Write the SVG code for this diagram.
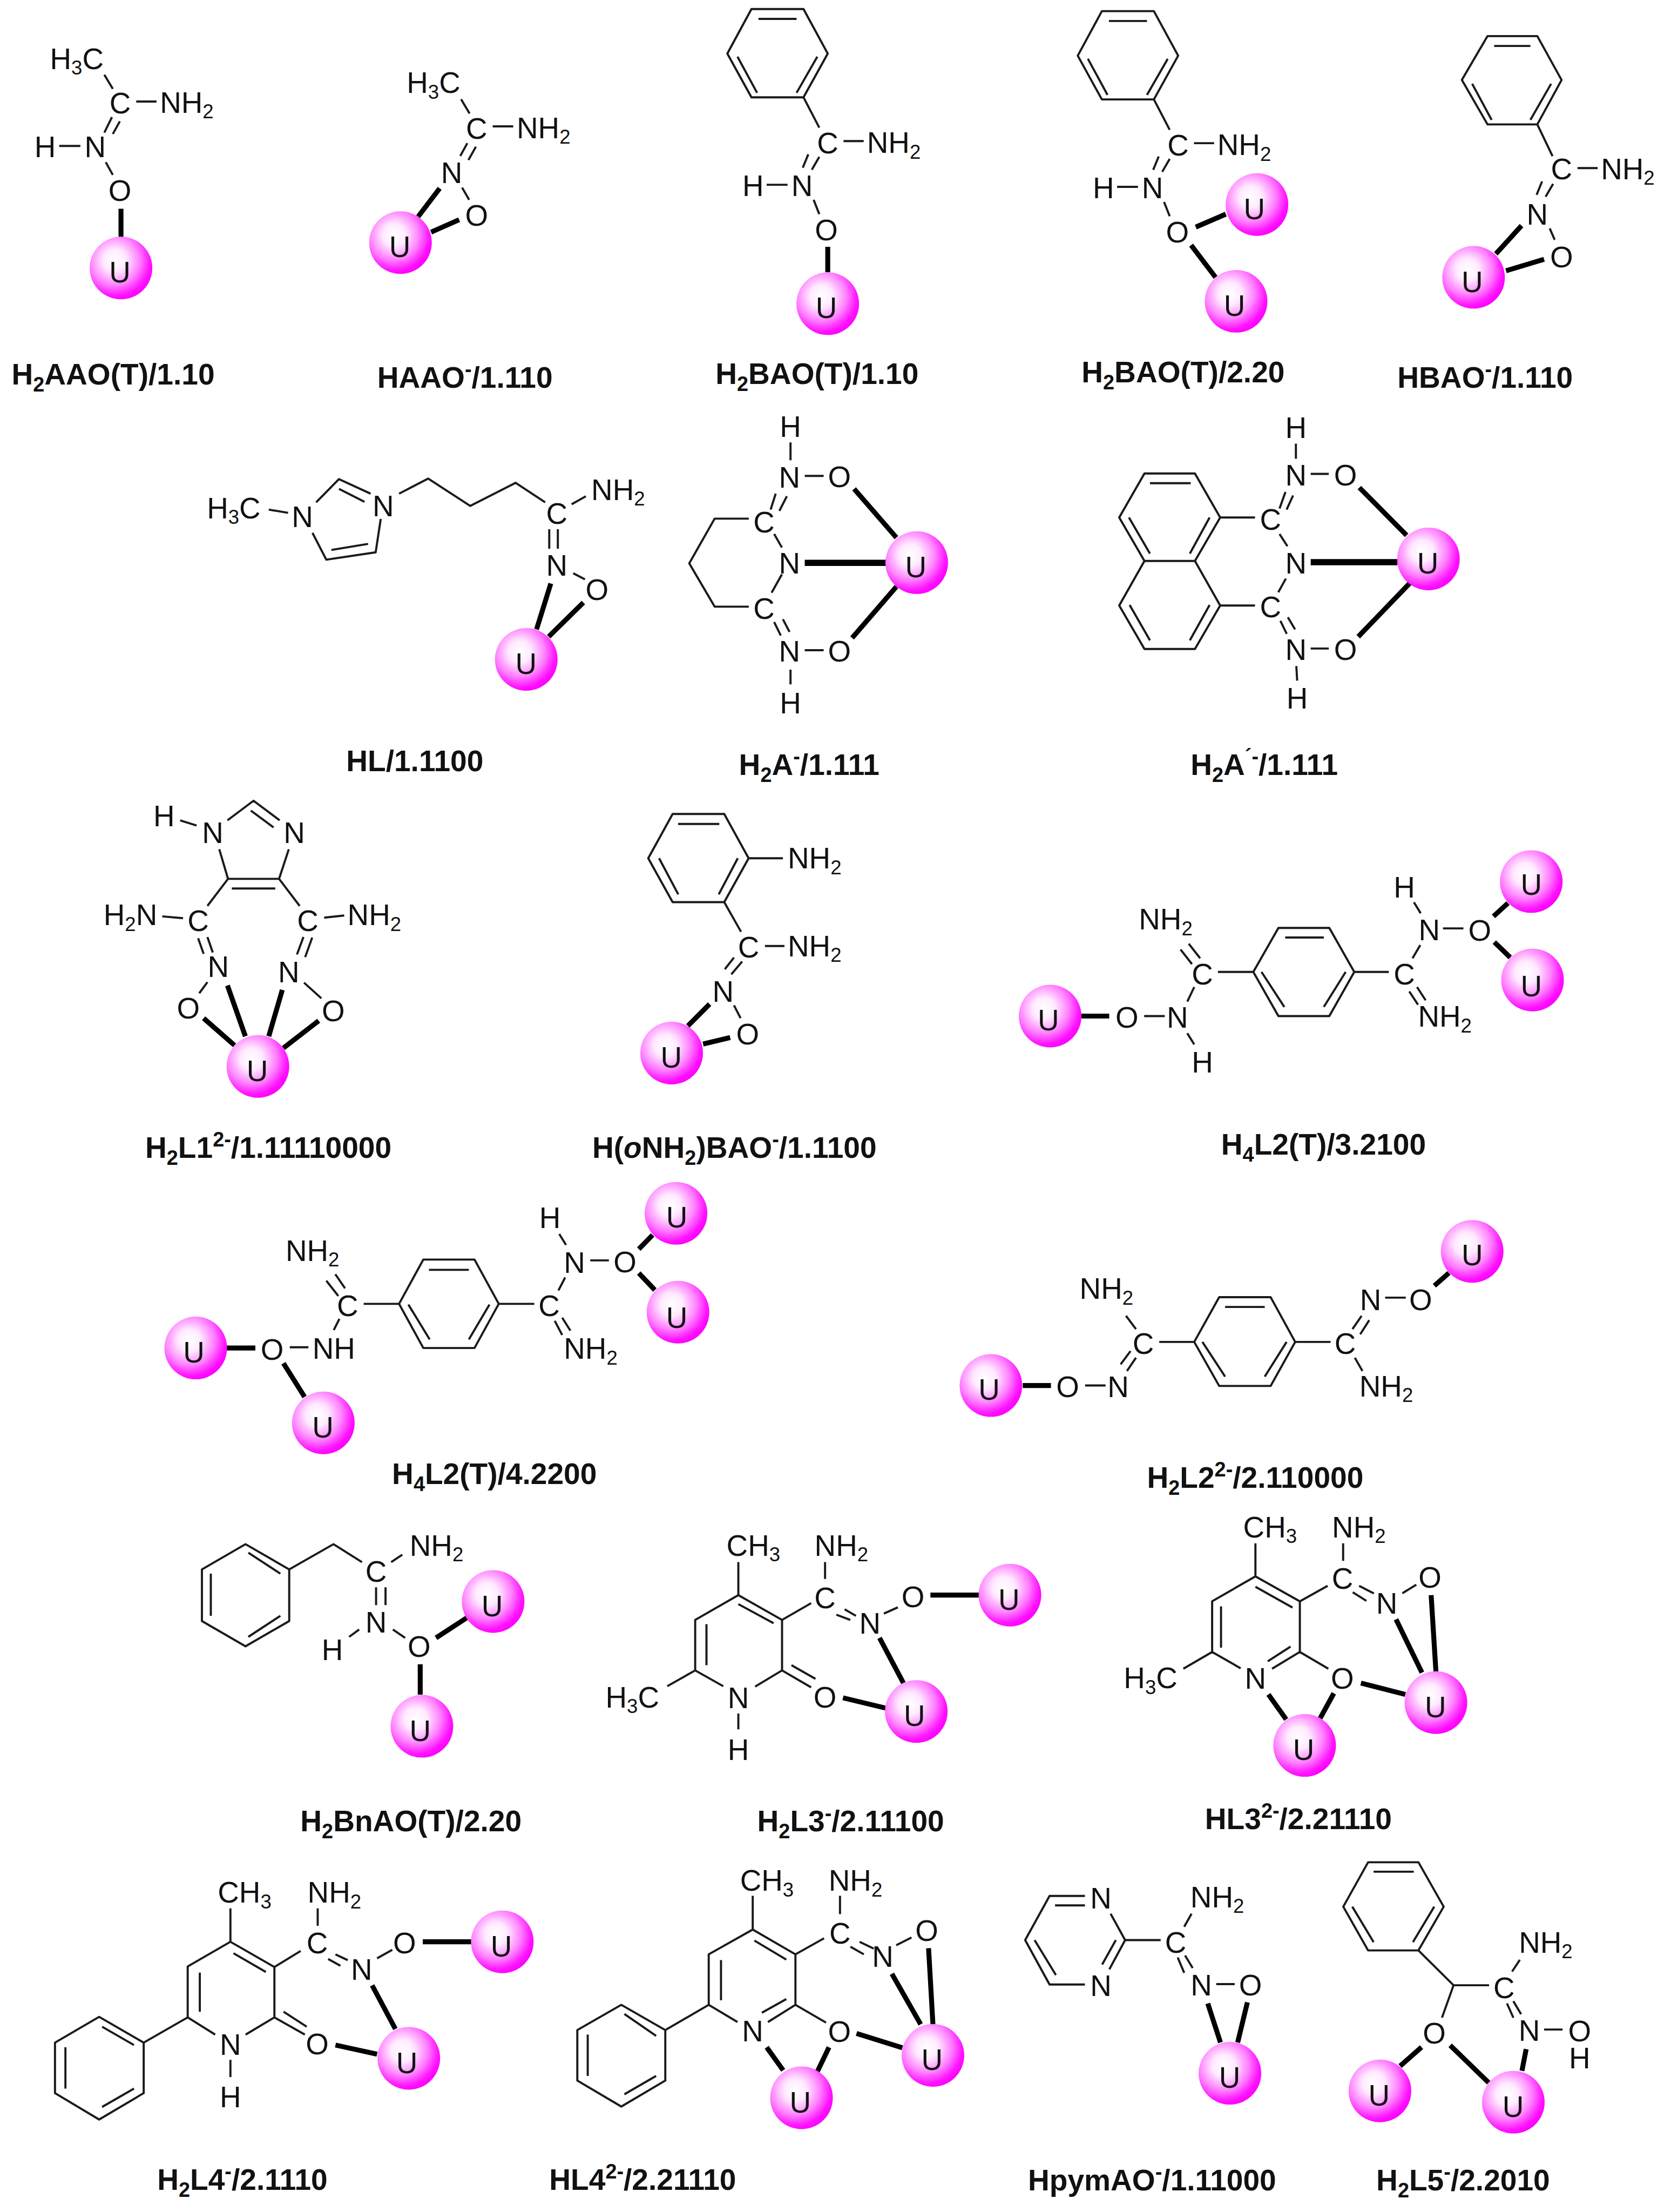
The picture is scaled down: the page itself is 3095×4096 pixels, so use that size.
<svg xmlns="http://www.w3.org/2000/svg" width="3095" height="4096" viewBox="0 0 3095 4096">
<defs>
<radialGradient id="ug" cx="0.4" cy="0.38" r="0.64">
<stop offset="0" stop-color="#ffffff"/><stop offset="0.28" stop-color="#ffeaff"/><stop offset="0.62" stop-color="#ff80ff"/><stop offset="0.88" stop-color="#ff14ff"/><stop offset="1" stop-color="#ff00ff"/>
</radialGradient>
</defs>
<style>
text{font-family:"Liberation Sans",Arial,sans-serif;fill:#111}
.a{font-size:21px;text-anchor:middle;transform:translateY(.4px)}
.l{font-size:21px;transform:translateX(-1.6px)}
.s{font-size:14px}
.c{font-size:21.100px;font-weight:bold}
.cs{font-size:14.500px}
.b{fill:none;stroke:#1a1a1a;stroke-width:1.500;stroke-linejoin:round}
.t{fill:none;stroke:#000;stroke-width:3.500}
.h{fill:none;stroke:#000;stroke-width:4.400}
.u{fill:url(#ug)}
</style>
<rect width="3095" height="4096" fill="#fff"/>
<g transform="scale(2.6118)">
<g id="connectors">
<path class="b" d="M74 53L80 63M96.600 72H111M79.400 83L74 94M85 86L80 95M42 103.500H57M75 115L80 124"/>
<path class="t" d="M85.800 148V168"/>
<path class="b" d="M327 70.400L333 80.500M349.400 89.600H364M331.400 101.500L326.400 110.600M337.500 104L332.200 113.400M327.700 133L332.700 141.700"/>
<path class="t" d="M311.800 133.500L296.500 153.600M325.600 155.800L305.700 164.600"/>
<path class="b" d="M532.900 6.400H569.800L587 38L569.800 69H532.900L515.800 38ZM537.900 13.400H564.900M523 40.200L536.900 65.800M579.600 40.200L564.900 65.800M569.800 69L581 90.500M598.200 100H612.500M573.200 109.400L569.300 118.900M581 111.200L575.700 120.300M543.700 131H558.500M577 141.700L581 151.800"/>
<path class="t" d="M587 175V193"/>
<path class="b" d="M781.400 7.900H818.300L835.500 39.500L818.300 70.500H781.400L764.300 39.500ZM786.400 14.900H813.400M771.500 41.700L785.400 67.300M828.100 41.700L813.400 67.300M818.300 70.500L829.500 92M846.700 101.500H861M821.700 110.900L817.800 120.400M829.500 112.700L824.200 121.800M792.200 132.500H807M825.500 143.200L829.500 153.300"/>
<path class="t" d="M848 161L869.300 151.800M844.700 173.800L862 196.600"/>
<path class="b" d="M1054.900 25.600H1090.200L1107.400 56.700L1090.200 88.200H1054.900L1036.700 56.700ZM1059.600 32.600H1085.300M1044 59.400L1057.800 85M1100 59.400L1085.300 85M1090.200 88.200L1101 110.700M1118.700 119.200H1133M1093.600 128.600L1089.700 138.100M1101.400 130.400L1096.100 139.500M1099 161.900L1102.500 170"/>
<path class="t" d="M1079 160L1060.800 180M1095 183.800L1068 192"/>
<path class="b" d="M190.600 361.300L204.300 363.600M224.200 356.100L240.400 339.700L262.800 350M240.400 346.600L258.500 355.800M270 367.900L266.400 391.600L231.400 396.800L221.600 377.800M261 385.600L235 389.900M283 350L303.600 339.300L333.500 358.700L365.700 342.300L386.600 356.100M405.400 357.500L415.500 351.800M389.500 375.200V389M395.600 375.200V389M406.500 406.400L414.800 410.700"/>
<path class="t" d="M390.600 413.700L380.500 446.200M413.700 427.200L389.100 451.400"/>
<path class="b" d="M560.600 313.700V326.300M570.700 337.400H584.100M550.100 350L546.500 361.300M558 351.800L552.700 362.200M531 367.700H506.800L488.800 399.400L506.800 430.100H531M549 378.600L554.500 388.200M554.500 407.200L547.200 420.200M549 441L553.700 450.600M555.200 439L559.900 448M570.700 461H584.100M560.600 474.800V485.200"/>
<path class="t" d="M605.700 346.600L635.700 381.200M604.300 452.300L635.700 415.900"/>
<path class="h" d="M570.700 399.100H628.500"/>
<path class="b" d="M919 314.500V325.300M929.500 336H942.300M911.600 348.800L907.400 360.500M917 351.300L912.400 361.300M865.300 366.900H890M907.400 378.600L913 387.300M911.900 410.200L906.500 419.900M865.300 429.300H890M908 440.200L912.500 449.400M913.300 437.600L918.400 446.200M929.500 459.800H942.300M919.300 472.200L919.900 482.600M811.600 335.700H847.400L865.300 366.900L847.400 397.700H811.600L793.700 366.900ZM847.400 397.700L865.300 429.300L847.400 460.100H811.600L793.700 429.300L811.600 397.700M815.500 342.600H844.400M800.600 366.900L815.500 392.500M857.800 366.900L843.800 392.500M801.100 428.900L815.500 454M857.800 428.900L843.800 454"/>
<path class="t" d="M964 345.700L997.500 379.500M963.200 451.400L999.900 413.300"/>
<path class="h" d="M929.500 398.600H991"/>
<path class="b" d="M127.800 581.600L139.400 585.300M161.300 581.600L179.800 567.700L198.300 581.600M177.900 574.700L194 586.600M155.500 602.100L161.700 623.100H197.900L204.800 602.100M164.400 629.900H195.200M161.700 623.100L147.100 642.300M197.900 623.100L212.500 642.300M115.100 649.700L129.800 651M229.900 650.600L244.100 649.100M140.500 665.200L144.400 676.200M147.100 664.300L150.900 675.300M215.200 664.300L210.600 676.700M221.400 664.700L216.400 678.600M147.100 696.300L141.300 704.200M215.600 696.700L227.900 707.800"/>
<path class="t" d="M161.300 698.700L174 734.700M200.200 701.800L190.600 734.700M144.400 721.900L166.300 741.100M226 723.700L201 743"/>
<path class="b" d="M477 577.100H513.600L530.900 608.500L513.600 639.600H477L459.700 608.500ZM480.900 584.200H510.100M467.400 608.500L481 634.100M523.200 608.500L509.700 634.100M530.900 608.500H555.200M513.600 639.600L525.500 660.600M542.500 670.700H556.300M520.500 678.900L514 687.200M526.300 681.700L518.600 690.800M520.500 712.800L525.200 721.900"/>
<path class="t" d="M503.200 711.900L487.800 727.400M517.800 735.600L498.600 740.200"/>
<path class="b" d="M811.400 720.400H826M842 732.600L846.900 740.500M842 710.100L846.900 699.800M837.200 673.200L845.300 683.500M843 669.100L851.100 679.400M863.700 689.100H888.800M888.800 689.100L906.600 657.900H942.700L960.400 689.100L942.700 720.400H906.600ZM911.400 664.700H938.800M894.600 689.100L910.800 713.900M954.300 689.100L938.800 713.900M960.400 689.100H984.900M1001.700 679.400L1007.200 670M1007.500 647.500L1002.700 639.700M999.400 702.900L1005.600 712.300M1004.900 699.800L1011 709.200M1023.300 658.200H1037.800"/>
<path class="t" d="M766.900 720.400H786.600M1059.100 649.700L1069.400 640.300M1059.700 667.900L1071 678.800"/>
<path class="b" d="M205.500 955.200H218.700M236.700 943L240.700 935M231.400 908L239.900 918.800M237.800 903.400L244.700 913.400M257.900 924.400H283M283 924.400L300.200 893H336.500L353.700 924.400L336.500 955.700H300.200ZM304.200 900.300H332.500M289.600 924.900L304.700 949.600M347.100 924.900L332.500 949.600M353.700 924.400H378.900M396 914.900L400.800 905.700M401.400 882.600L396.600 874.900M393.400 936.500L398.700 946.500M398.700 934.200L404.500 943.400M418.600 893.600H431.800"/>
<path class="t" d="M160.500 955.700H181.100M201 966.500L216 990.400M453 885.600L462.800 875.600M453 902.600L464.400 914.600"/>
<path class="b" d="M769.500 982.300H784M794.700 967.300L801.700 957.900M799.200 972L805.600 962.600M805.600 942.300L798.500 932.900M822.100 951.400H846.900M846.900 951.400L864.600 919.700H901.100L918.500 951.400L901.100 982.600H864.600ZM868.800 926.600H896.900M852.700 951.400L868.800 976M912.400 951.400L896.900 976M918.500 951.400H943.600M959.100 942.300L965.600 932.900M964.600 946L971 936M982.300 920H996.900M960.800 962.600L966.200 972"/>
<path class="t" d="M725.300 982.300H745.300M1017.200 911.600L1027.500 902.500"/>
<path class="b" d="M174.100 1094.800L205.100 1112.700V1149.300L174.100 1167.200L143.200 1149.300V1112.700ZM176.100 1100.800L198.800 1115.700M149.500 1115.700V1145.600M198.800 1145.600L176.100 1160.500M205.100 1112.700L236.500 1094.800L256.700 1107.500M277.400 1107.500L285.300 1102.300M266.700 1125.400V1138M273.400 1125.400V1138M254.700 1155.300L247.600 1160.500M278.600 1155.300L287.300 1161.200"/>
<path class="t" d="M309.200 1161.200L331 1147M298 1179.900V1201.500"/>
<path class="b" d="M512.900 1195.500L493 1184.300V1148.500L523.600 1130.900L554.600 1148.500V1184.300L535.500 1195.800M501 1151.500V1180.600M548.600 1150.800L523.600 1137.300M523.600 1130.900V1107.500M554.600 1148.500L575.200 1136.600M585.100 1119.400V1107.500M593.100 1144.800L603 1148.500M599 1141L607 1145.600M626.800 1144L636.700 1139.600M554.600 1184.300L575.200 1196.300M561.300 1180.600L578.300 1190.300M523.600 1214.900V1226.100M493 1184.300L473.200 1195.500"/>
<path class="t" d="M659.800 1130.900H694.300M623.700 1161.200L640.700 1193.300M597.800 1203.700L628.800 1211.200"/>
<path class="b" d="M879.800 1182.800L859.600 1171.200V1135.300L890.300 1117.600L921.800 1135.300V1171.200L902.100 1183.100M915.200 1167.400L899 1177.900M865.900 1138.900V1168.200M890.300 1125L916.600 1139.700M859.600 1171.200L839.200 1183.100M890.300 1117.600V1094.200M921.800 1135.300L941.500 1124.300M952.500 1106.600V1094.200M959.300 1128.900L969 1135M963.800 1124.300L974.300 1129.700M994.500 1129.600L1004.400 1123.500M921.800 1171.200L942 1183.100"/>
<path class="t" d="M990 1148.100L1008.400 1185.900M1014.900 1130.900L1018.300 1185.100M965.100 1193.300L996.600 1201.300M899.500 1201.300L912.100 1219M945.900 1200.500L936.200 1218.200"/>
<path class="b" d="M152.600 1442.500L133.100 1430.300V1394.200L163.400 1376.700L194.600 1394.600V1430.300L174.200 1442.500M141.700 1398.600V1426.300M165.600 1384.800L188.500 1398.100M163.400 1460.400V1472.600M163.400 1376.700V1353M194.600 1394.600L213.200 1383.200M225.300 1365.300V1353M232.700 1388.900L241.400 1393.700M237.900 1385.600L246.600 1389.700M267.400 1388.400L278.200 1382.400M194.600 1430.300L216.200 1442.500M201.100 1426.300L217.500 1436.900M133.100 1430.300L101.900 1448.200L70.300 1429.900L39 1448.200V1484L70.300 1502.700L101.900 1484V1448.200M72.400 1436.900L95 1449.900M46.400 1451.500V1480.800M95 1480.800L72.400 1493.800"/>
<path class="t" d="M299.800 1376.700H334.500M263.900 1407.600L280.400 1438.500M237.900 1449.900L267.400 1456.400"/>
<path class="b" d="M523 1433.600L502.600 1421.400V1385.600L533.800 1368L564.100 1385.600V1421.400L544.600 1433.600M557.600 1417.300L540.300 1427M511.300 1389.700V1418.200M535 1375.800L557.600 1389.300M533.800 1368V1344.100M564.100 1385.600L584.400 1374.200M595.700 1357.100V1344.100M603.100 1380.200L612.600 1385.600M609.600 1376.700L619.600 1381.500M635.600 1379.100L646.400 1373.700M564.100 1421.400L585.800 1434M502.600 1421.400L471.800 1439.300L440.600 1421.400L409.400 1439.300V1475.100L440.600 1493.500L471.800 1475.100V1439.300M442.800 1427.900L465.300 1443.400M416.800 1442.500V1471.800M465.300 1471.800L442.800 1484.800"/>
<path class="t" d="M632.500 1399.400L652.900 1435.200M658.500 1381.200L661.600 1435.200M607.400 1441.700L639.900 1451.800M543.700 1451.500L555.400 1467.800M587.900 1451.500L579.300 1469.400"/>
<path class="b" d="M769.400 1344.200H744.300L727 1375.500L744.300 1407H769.400M748.200 1350.900H769.400M733.700 1375.500L748.800 1400.300M787.600 1356.800L797.900 1375.500L786.700 1396.200M791.300 1375.500L781.600 1392.800M797.900 1375.500H823.100M839.800 1366L845 1356.800M835.200 1387.800L839.800 1398.700M840.400 1386.400L845.800 1395.300M862.500 1406.700H875.600"/>
<path class="t" d="M856.500 1420.400L865.500 1448.100M884.600 1419.600L877.700 1448.100"/>
<path class="b" d="M970.200 1320.300H1005.900L1023.800 1351.800L1005.900 1382.800H970.200L952.600 1351.800ZM974.100 1327H1002.600M959 1351.800L974.100 1376.900M1017.100 1351.800L1002 1376.900M1005.900 1382.800L1030.800 1407.500H1056M1030.800 1407.500L1022.600 1430.500M1072.300 1397.800L1077.800 1389.500M1068.700 1420.400L1073.200 1430.500M1073.200 1418.800L1078.700 1428M1095 1438.900H1108.100"/>
<path class="t" d="M1008.100 1451.400L992.900 1464.800M1028.400 1450.100L1055.700 1476.600M1082.300 1452.800L1079.300 1468.200"/>
</g>
<g id="H2AAO-T-1-10">
<text class="l" x="37" y="49">H<tspan class="s" dy="4">3</tspan><tspan dy="-4">C</tspan></text><text class="a" x="85.200" y="80">C</text><text class="l" x="115" y="80">NH<tspan class="s" dy="4">2</tspan></text><text class="a" x="32" y="111">H</text><text class="a" x="67.500" y="111">N</text><text class="a" x="85" y="142">O</text>
<g id="u1"><circle class="u" cx="85.800" cy="190" r="22.200"/><text class="a" x="85" y="200">U</text></g>
<text class="c" x="8.200" y="272.500">H<tspan class="cs" dy="5">2</tspan><tspan dy="-5">AAO(T)/1.10</tspan></text>
</g>
<g id="HAAO-1-110">
<text class="l" x="290" y="66">H<tspan class="s" dy="4">3</tspan><tspan dy="-4">C</tspan></text><text class="a" x="338" y="98">C</text><text class="l" x="368" y="98">NH<tspan class="s" dy="4">2</tspan></text><text class="a" x="320.300" y="129.500">N</text><text class="a" x="338" y="159.700">O</text>
<g id="u2"><circle class="u" cx="284" cy="172" r="22.200"/><text class="a" x="283.500" y="182">U</text></g>
<text class="c" x="267.500" y="275">HAAO<tspan class="cs" dy="-8">-</tspan><tspan dy="8">/1.110</tspan></text>
</g>
<g id="H2BAO-T-1-10">
<text class="a" x="587" y="108.500">C</text><text class="l" x="616.400" y="108.500">NH<tspan class="s" dy="4">2</tspan></text><text class="a" x="534" y="138.700">H</text><text class="a" x="568.800" y="138.700">N</text><text class="a" x="586" y="169.800">O</text>
<g id="u3"><circle class="u" cx="587" cy="215.300" r="22.200"/><text class="a" x="586" y="225.300">U</text></g>
<text class="c" x="507.400" y="272.200">H<tspan class="cs" dy="5">2</tspan><tspan dy="-5">BAO(T)/1.10</tspan></text>
</g>
<g id="H2BAO-T-2-20">
<text class="a" x="835.500" y="110">C</text><text class="l" x="864.900" y="110">NH<tspan class="s" dy="4">2</tspan></text><text class="a" x="782.500" y="140.200">H</text><text class="a" x="817.300" y="140.200">N</text><text class="a" x="835" y="171.600">O</text>
<g id="u4"><circle class="u" cx="891.400" cy="145" r="22.200"/><text class="a" x="889.500" y="155">U</text></g>
<g id="u5"><circle class="u" cx="876.600" cy="213.600" r="22.200"/><text class="a" x="875.500" y="223.600">U</text></g>
<text class="c" x="767" y="271.200">H<tspan class="cs" dy="5">2</tspan><tspan dy="-5">BAO(T)/2.20</tspan></text>
</g>
<g id="HBAO-1-110">
<text class="a" x="1107.400" y="126.800">C</text><text class="l" x="1136.900" y="127">NH<tspan class="s" dy="4">2</tspan></text><text class="a" x="1090.200" y="158.800">N</text><text class="a" x="1107.400" y="189">O</text>
<g id="u6"><circle class="u" cx="1045" cy="196.600" r="22.200"/><text class="a" x="1044" y="206.600">U</text></g>
<text class="c" x="991" y="275">HBAO<tspan class="cs" dy="-8">-</tspan><tspan dy="8">/1.110</tspan></text>
</g>
<g id="HL-1-1100">
<text class="l" x="148.300" y="367.400">H<tspan class="s" dy="4">3</tspan><tspan dy="-4">C</tspan></text><text class="a" x="214.400" y="373.200">N</text><text class="a" x="271.800" y="365.700">N</text><text class="a" x="394.900" y="370.900">C</text><text class="l" x="420.900" y="354.500">NH<tspan class="s" dy="4">2</tspan></text><text class="a" x="394.900" y="407.700">N</text><text class="a" x="423.400" y="425">O</text>
<g id="u7"><circle class="u" cx="373.200" cy="467.500" r="22.200"/><text class="a" x="373" y="477.500">U</text></g>
<text class="c" x="245.500" y="546.800">HL/1.1100</text>
</g>
<g id="H2A-1-111">
<text class="a" x="560.600" y="309.400">H</text><text class="a" x="559.900" y="345.300">N</text><text class="a" x="595.300" y="345">O</text><text class="a" x="541.800" y="377">C</text><text class="a" x="559.900" y="406.100">N</text><text class="a" x="541.800" y="438.500">C</text><text class="a" x="559.900" y="468.800">N</text><text class="a" x="595.300" y="468.800">O</text><text class="a" x="560.600" y="505.200">H</text>
<g id="u8"><circle class="u" cx="650.100" cy="398.900" r="22.200"/><text class="a" x="649.500" y="408.900">U</text></g>
<text class="c" x="524" y="549.500">H<tspan class="cs" dy="5">2</tspan><tspan dy="-5">A</tspan><tspan class="cs" dy="-8">-</tspan><tspan dy="8">/1.111</tspan></text>
</g>
<g id="H2Ap-1-111">
<text class="a" x="919" y="310.300">H</text><text class="a" x="919" y="344">N</text><text class="a" x="954.200" y="344">O</text><text class="a" x="901" y="375.300">C</text><text class="a" x="919" y="406.400">N</text><text class="a" x="901" y="437.300">C</text><text class="a" x="919" y="467.600">N</text><text class="a" x="954.200" y="467.600">O</text><text class="a" x="919.900" y="501.800">H</text>
<g id="u9"><circle class="u" cx="1013" cy="396.300" r="22.200"/><text class="a" x="1012.500" y="406.300">U</text></g>
<text class="c" x="844.300" y="549.300">H<tspan class="cs" dy="5">2</tspan><tspan dy="-5">A</tspan><tspan class="cs" dy="-8">´-</tspan><tspan dy="8">/1.111</tspan></text>
</g>
<g id="H2L1-1-11110000">
<text class="a" x="116.300" y="585.300">H</text><text class="a" x="150.900" y="597.200">N</text><text class="a" x="208.700" y="597.200">N</text><text class="a" x="140.500" y="659.800">C</text><text class="a" x="218.300" y="659.800">C</text><text class="l" x="75" y="656">H<tspan class="s" dy="4">2</tspan><tspan dy="-4">N</tspan></text><text class="l" x="248" y="656">NH<tspan class="s" dy="4">2</tspan></text><text class="a" x="154.800" y="692.300">N</text><text class="a" x="204.800" y="696">N</text><text class="a" x="133.600" y="721.600">O</text><text class="a" x="236.400" y="723.800">O</text>
<g id="u10"><circle class="u" cx="182.900" cy="756.100" r="22.200"/><text class="a" x="182.500" y="766.100">U</text></g>
<text class="c" x="103" y="820.700">H<tspan class="cs" dy="5">2</tspan><tspan dy="-5">L1</tspan><tspan class="cs" dy="-8">2-</tspan><tspan dy="8">/1.11110000</tspan></text>
</g>
<g id="HoNH2BAO-1-1100">
<text class="l" x="560.200" y="615.800">NH<tspan class="s" dy="4">2</tspan></text><text class="a" x="530.900" y="678.300">C</text><text class="l" x="560.200" y="678">NH<tspan class="s" dy="4">2</tspan></text><text class="a" x="512.800" y="709.700">N</text><text class="a" x="530.200" y="740.200">O</text>
<g id="u11"><circle class="u" cx="476.300" cy="746.600" r="22.200"/><text class="a" x="476" y="756.600">U</text></g>
<text class="c" x="420" y="820.700">H(<tspan font-style="italic">o</tspan>NH<tspan class="cs" dy="5">2</tspan><tspan dy="-5">)BAO</tspan><tspan class="cs" dy="-8">-</tspan><tspan dy="8">/1.1100</tspan></text>
</g>
<g id="H4L2-T-3-2100">
<text class="a" x="799.200" y="728.400">O</text><text class="a" x="835" y="728.400">N</text><text class="a" x="852.700" y="760">H</text><text class="a" x="852.700" y="697.400">C</text><text class="l" x="809.200" y="659.100">NH<tspan class="s" dy="4">2</tspan></text><text class="a" x="995.900" y="697.400">C</text><text class="a" x="1013.600" y="666.100">N</text><text class="a" x="995.900" y="635.800">H</text><text class="l" x="1007.200" y="728">NH<tspan class="s" dy="4">2</tspan></text><text class="a" x="1049.400" y="666.400">O</text>
<g id="u12"><circle class="u" cx="744.700" cy="720.400" r="22.200"/><text class="a" x="743.500" y="730">U</text></g>
<g id="u13"><circle class="u" cx="1085.900" cy="625" r="22.200"/><text class="a" x="1086" y="634">U</text></g>
<g id="u14"><circle class="u" cx="1086.800" cy="694.800" r="22.200"/><text class="a" x="1086" y="706">U</text></g>
<text class="c" x="866" y="818.500">H<tspan class="cs" dy="5">4</tspan><tspan dy="-5">L2(T)/3.2100</tspan></text>
</g>
<g id="H4L2-T-4-2200">
<text class="a" x="193" y="963.500">O</text><text class="l" x="223.200" y="963.400">NH</text><text class="a" x="246.500" y="932.700">C</text><text class="l" x="204.100" y="894">NH<tspan class="s" dy="4">2</tspan></text><text class="a" x="389.400" y="932.700">C</text><text class="a" x="407.400" y="901.900">N</text><text class="a" x="390" y="870.300">H</text><text class="l" x="401.400" y="963.400">NH<tspan class="s" dy="4">2</tspan></text><text class="a" x="443.200" y="901.600">O</text>
<g id="u15"><circle class="u" cx="138.800" cy="955.700" r="22.200"/><text class="a" x="137.500" y="965.500">U</text></g>
<g id="u16"><circle class="u" cx="229.300" cy="1008.800" r="22.200"/><text class="a" x="229" y="1018.800">U</text></g>
<g id="u17"><circle class="u" cx="479.400" cy="860.200" r="22.200"/><text class="a" x="480" y="870">U</text></g>
<g id="u18"><circle class="u" cx="480.800" cy="930.300" r="22.200"/><text class="a" x="480" y="941">U</text></g>
<text class="c" x="278" y="1052">H<tspan class="cs" dy="5">4</tspan><tspan dy="-5">L2(T)/4.2200</tspan></text>
</g>
<g id="H2L2-2-110000">
<text class="a" x="757.200" y="990.300">O</text><text class="a" x="793" y="990.300">N</text><text class="a" x="810.800" y="959.600">C</text><text class="l" x="767.200" y="921">NH<tspan class="s" dy="4">2</tspan></text><text class="a" x="954" y="959.600">C</text><text class="a" x="972" y="928.300">N</text><text class="a" x="1007.500" y="928.300">O</text><text class="l" x="965.600" y="990">NH<tspan class="s" dy="4">2</tspan></text>
<g id="u19"><circle class="u" cx="702.700" cy="982.300" r="22.200"/><text class="a" x="701.500" y="992">U</text></g>
<g id="u20"><circle class="u" cx="1044" cy="887.200" r="22.200"/><text class="a" x="1044" y="896.500">U</text></g>
<text class="c" x="813.400" y="1054.900">H<tspan class="cs" dy="5">2</tspan><tspan dy="-5">L2</tspan><tspan class="cs" dy="-8">2-</tspan><tspan dy="8">/2.110000</tspan></text>
</g>
<g id="H2BnAO-T-2-20">
<text class="a" x="266.700" y="1121.200">C</text><text class="l" x="292.100" y="1103">NH<tspan class="s" dy="4">2</tspan></text><text class="a" x="266.700" y="1157">N</text><text class="a" x="235.700" y="1176.400">H</text><text class="a" x="297.200" y="1174.200">O</text>
<g id="u21"><circle class="u" cx="349.700" cy="1135.400" r="22.200"/><text class="a" x="349" y="1145.400">U</text></g>
<g id="u22"><circle class="u" cx="299.200" cy="1223.900" r="22.200"/><text class="a" x="298" y="1233.900">U</text></g>
<text class="c" x="213" y="1298.500">H<tspan class="cs" dy="5">2</tspan><tspan dy="-5">BnAO(T)/2.20</tspan></text>
</g>
<g id="H2L3-2-11100">
<text class="a" x="523.600" y="1210.700">N</text><text class="l" x="516.800" y="1103">CH<tspan class="s" dy="4">3</tspan></text><text class="a" x="585.100" y="1139.900">C</text><text class="l" x="579.200" y="1103">NH<tspan class="s" dy="4">2</tspan></text><text class="a" x="616.900" y="1157.800">N</text><text class="a" x="647.500" y="1139.100">O</text><text class="a" x="585.100" y="1210.400">O</text><text class="a" x="523.600" y="1247.300">H</text><text class="l" x="431" y="1210.500">H<tspan class="s" dy="4">3</tspan><tspan dy="-4">C</tspan></text>
<g id="u23"><circle class="u" cx="716.200" cy="1130.900" r="22.200"/><text class="a" x="715.500" y="1140.900">U</text></g>
<g id="u24"><circle class="u" cx="649.800" cy="1213.400" r="22.200"/><text class="a" x="648.500" y="1223.400">U</text></g>
<text class="c" x="537" y="1298.500">H<tspan class="cs" dy="5">2</tspan><tspan dy="-5">L3</tspan><tspan class="cs" dy="-8">-</tspan><tspan dy="8">/2.11100</tspan></text>
</g>
<g id="HL3-2-21110">
<text class="a" x="890.300" y="1196.700">N</text><text class="l" x="798.500" y="1197">H<tspan class="s" dy="4">3</tspan><tspan dy="-4">C</tspan></text><text class="l" x="883.200" y="1090">CH<tspan class="s" dy="4">3</tspan></text><text class="a" x="952" y="1125.900">C</text><text class="l" x="946.200" y="1090">NH<tspan class="s" dy="4">2</tspan></text><text class="a" x="983.400" y="1143.600">N</text><text class="a" x="1014.100" y="1125.400">O</text><text class="a" x="952" y="1196.700">O</text>
<g id="u25"><circle class="u" cx="1018.300" cy="1207.100" r="22.200"/><text class="a" x="1018" y="1217.100">U</text></g>
<g id="u26"><circle class="u" cx="925.200" cy="1237.500" r="22.200"/><text class="a" x="924.500" y="1247.500">U</text></g>
<text class="c" x="854.500" y="1296.700">HL3<tspan class="cs" dy="-8">2-</tspan><tspan dy="8">/2.21110</tspan></text>
</g>
<g id="H2L4-2-1110">
<text class="a" x="163.400" y="1456.500">N</text><text class="a" x="163.400" y="1493.500">H</text><text class="l" x="156" y="1349">CH<tspan class="s" dy="4">3</tspan></text><text class="a" x="225" y="1384.500">C</text><text class="l" x="219.700" y="1349">NH<tspan class="s" dy="4">2</tspan></text><text class="a" x="256.500" y="1403.200">N</text><text class="a" x="286.900" y="1384.500">O</text><text class="a" x="225" y="1456">O</text>
<g id="u27"><circle class="u" cx="356.200" cy="1376.700" r="22.200"/><text class="a" x="355.500" y="1386.700">U</text></g>
<g id="u28"><circle class="u" cx="289.900" cy="1459.300" r="22.200"/><text class="a" x="288.500" y="1469.300">U</text></g>
<text class="c" x="111.500" y="1552.400">H<tspan class="cs" dy="5">2</tspan><tspan dy="-5">L4</tspan><tspan class="cs" dy="-8">-</tspan><tspan dy="8">/2.1110</tspan></text>
</g>
<g id="HL4-2-21110">
<text class="a" x="533.800" y="1447">N</text><text class="l" x="526.400" y="1340.500">CH<tspan class="s" dy="4">3</tspan></text><text class="a" x="595.700" y="1377.500">C</text><text class="l" x="589.200" y="1340.500">NH<tspan class="s" dy="4">2</tspan></text><text class="a" x="626" y="1394.200">N</text><text class="a" x="657.200" y="1375.500">O</text><text class="a" x="595.300" y="1447.100">O</text>
<g id="u29"><circle class="u" cx="661.600" cy="1457.200" r="22.200"/><text class="a" x="661" y="1467.200">U</text></g>
<g id="u30"><circle class="u" cx="568.400" cy="1487.300" r="22.200"/><text class="a" x="567.500" y="1497.300">U</text></g>
<text class="c" x="389.500" y="1552.400">HL4<tspan class="cs" dy="-8">2-</tspan><tspan dy="8">/2.21110</tspan></text>
</g>
<g id="HpymAO-1-11000">
<text class="a" x="780.700" y="1352.600">N</text><text class="a" x="780.700" y="1414.900">N</text><text class="a" x="833.700" y="1383.900">C</text><text class="l" x="845.800" y="1352.300">NH<tspan class="s" dy="4">2</tspan></text><text class="a" x="851.900" y="1414.500">N</text><text class="a" x="886.800" y="1414.500">O</text>
<g id="u31"><circle class="u" cx="872.200" cy="1469.900" r="22.200"/><text class="a" x="872" y="1479.900">U</text></g>
<text class="c" x="729" y="1552.800">HpymAO<tspan class="cs" dy="-8">-</tspan><tspan dy="8">/1.11000</tspan></text>
</g>
<g id="H2L5-2-2010">
<text class="a" x="1066.600" y="1416.200">C</text><text class="l" x="1078.700" y="1384.400">NH<tspan class="s" dy="4">2</tspan></text><text class="a" x="1084.500" y="1446.400">N</text><text class="a" x="1120.200" y="1446.700">O</text><text class="a" x="1120.200" y="1466">H</text><text class="a" x="1017.100" y="1448.400">O</text>
<g id="u32"><circle class="u" cx="978.600" cy="1482.400" r="22.200"/><text class="a" x="978" y="1492.400">U</text></g>
<g id="u33"><circle class="u" cx="1073.200" cy="1490.400" r="22.200"/><text class="a" x="1073" y="1500.400">U</text></g>
<text class="c" x="976" y="1552.800">H<tspan class="cs" dy="5">2</tspan><tspan dy="-5">L5</tspan><tspan class="cs" dy="-8">-</tspan><tspan dy="8">/2.2010</tspan></text>
</g>
</g>
</svg>
